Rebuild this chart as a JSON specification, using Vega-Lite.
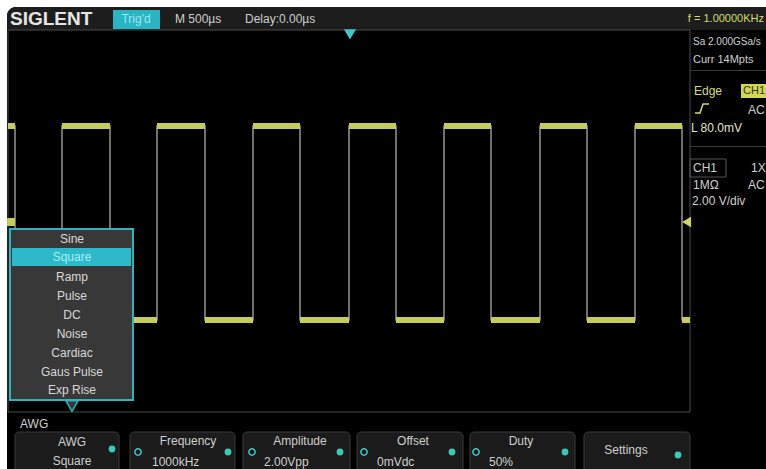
{
  "$schema": "https://vega.github.io/schema/vega-lite/v6.json",
  "width": 766,
  "height": 469,
  "autosize": {"type": "none"},
  "padding": 0,
  "background": "#ffffff",
  "config": {"view": {"stroke": null}, "axis": {"disable": true}},
  "datasets": {
    "bgRects": [
      {"x": 113, "x2": 160, "y": 10, "y2": 29, "f": "#2ab5c5", "st": "transparent", "sw": 0},
      {"x": 8, "x2": 690, "y": 30, "y2": 412, "f": "transparent", "st": "#4a4a4a", "sw": 1},
      {"x": 741, "x2": 772, "y": 84, "y2": 98, "f": "#d4d850", "st": "transparent", "sw": 0},
      {"x": 690, "x2": 766, "y": 70, "y2": 71, "f": "#3a3a3a", "st": "transparent", "sw": 0},
      {"x": 690, "x2": 766, "y": 146, "y2": 147, "f": "#3a3a3a", "st": "transparent", "sw": 0},
      {"x": 690, "x2": 726, "y": 159, "y2": 177, "f": "transparent", "st": "#555555", "sw": 1}
    ],
    "fgRects": [
      {"x": 10, "x2": 133, "y": 229, "y2": 400, "f": "#383838", "st": "#2fb3bf", "sw": 2},
      {"x": 12, "x2": 131, "y": 248, "y2": 266, "f": "#2cb9c8", "st": "transparent", "sw": 0}
    ],
    "buttons": [
      {"x": 15, "x2": 119, "y": 432, "y2": 478},
      {"x": 130, "x2": 235, "y": 432, "y2": 478},
      {"x": 243, "x2": 350, "y": 432, "y2": 478},
      {"x": 357, "x2": 463, "y": 432, "y2": 478},
      {"x": 470, "x2": 575, "y": 432, "y2": 478},
      {"x": 584, "x2": 690, "y": 432, "y2": 478}
    ],
    "wave": [
      {"i": 0, "x": 8, "y": 126}, {"i": 1, "x": 15, "y": 126}, {"i": 2, "x": 15, "y": 320}, {"i": 3, "x": 62, "y": 320},
      {"i": 4, "x": 62, "y": 126}, {"i": 5, "x": 110, "y": 126}, {"i": 6, "x": 110, "y": 320}, {"i": 7, "x": 157, "y": 320},
      {"i": 8, "x": 157, "y": 126}, {"i": 9, "x": 205, "y": 126}, {"i": 10, "x": 205, "y": 320}, {"i": 11, "x": 253, "y": 320},
      {"i": 12, "x": 253, "y": 126}, {"i": 13, "x": 300, "y": 126}, {"i": 14, "x": 300, "y": 320}, {"i": 15, "x": 349, "y": 320},
      {"i": 16, "x": 349, "y": 126}, {"i": 17, "x": 396, "y": 126}, {"i": 18, "x": 396, "y": 320}, {"i": 19, "x": 444, "y": 320},
      {"i": 20, "x": 444, "y": 126}, {"i": 21, "x": 491, "y": 126}, {"i": 22, "x": 491, "y": 320}, {"i": 23, "x": 540, "y": 320},
      {"i": 24, "x": 540, "y": 126}, {"i": 25, "x": 587, "y": 126}, {"i": 26, "x": 587, "y": 320}, {"i": 27, "x": 635, "y": 320},
      {"i": 28, "x": 635, "y": 126}, {"i": 29, "x": 682, "y": 126}, {"i": 30, "x": 682, "y": 320}, {"i": 31, "x": 690, "y": 320}
    ],
    "plateaus": [
      {"x": 8, "x2": 15, "y": 126}, {"x": 62, "x2": 110, "y": 126}, {"x": 157, "x2": 205, "y": 126}, {"x": 253, "x2": 300, "y": 126},
      {"x": 349, "x2": 396, "y": 126}, {"x": 444, "x2": 491, "y": 126}, {"x": 540, "x2": 587, "y": 126}, {"x": 635, "x2": 682, "y": 126},
      {"x": 15, "x2": 62, "y": 320}, {"x": 110, "x2": 157, "y": 320}, {"x": 205, "x2": 253, "y": 320}, {"x": 300, "x2": 349, "y": 320},
      {"x": 396, "x2": 444, "y": 320}, {"x": 491, "x2": 540, "y": 320}, {"x": 587, "x2": 635, "y": 320}, {"x": 682, "x2": 690, "y": 320}
    ],
    "edgeSym": [
      {"i": 0, "x": 695, "y": 113}, {"i": 1, "x": 700, "y": 113}, {"i": 2, "x": 703, "y": 104}, {"i": 3, "x": 709, "y": 104}
    ],
    "points": [
      {"x": 350, "y": 34, "sh": "triangle-down", "f": "#3cc8c8", "st": "#3cc8c8", "sz": 90},
      {"x": 72, "y": 406, "sh": "triangle-down", "f": "#383838", "st": "#2fb3bf", "sz": 150},
      {"x": 687, "y": 222, "sh": "triangle-left", "f": "#d0d860", "st": "#d0d860", "sz": 60},
      {"x": 11, "y": 222, "sh": "square", "f": "#c8cc60", "st": "#c8cc60", "sz": 40},
      {"x": 112, "y": 449, "sh": "circle", "f": "#3cc8b8", "st": "#3cc8b8", "sz": 28},
      {"x": 228, "y": 452, "sh": "circle", "f": "#3cc8b8", "st": "#3cc8b8", "sz": 28},
      {"x": 340, "y": 452, "sh": "circle", "f": "#3cc8b8", "st": "#3cc8b8", "sz": 28},
      {"x": 452, "y": 452, "sh": "circle", "f": "#3cc8b8", "st": "#3cc8b8", "sz": 28},
      {"x": 565, "y": 452, "sh": "circle", "f": "#3cc8b8", "st": "#3cc8b8", "sz": 28},
      {"x": 678, "y": 455, "sh": "circle", "f": "#3cc8b8", "st": "#3cc8b8", "sz": 28},
      {"x": 138, "y": 452, "sh": "circle", "f": "transparent", "st": "#3cc8c8", "sz": 40},
      {"x": 252, "y": 452, "sh": "circle", "f": "transparent", "st": "#3cc8c8", "sz": 40},
      {"x": 364, "y": 452, "sh": "circle", "f": "transparent", "st": "#3cc8c8", "sz": 40},
      {"x": 476, "y": 452, "sh": "circle", "f": "transparent", "st": "#3cc8c8", "sz": 40}
    ],
    "texts": [
      {"x": 136, "y": 19, "t": "Trig'd", "c": "#9be8f0", "s": 12, "a": "center"},
      {"x": 175, "y": 19, "t": "M 500µs", "c": "#cfcfcf", "s": 12, "a": "left"},
      {"x": 245, "y": 19, "t": "Delay:0.00µs", "c": "#cfcfcf", "s": 12, "a": "left"},
      {"x": 764, "y": 19, "t": "f = 1.00000KHz", "c": "#d6dc70", "s": 11, "a": "right"},
      {"x": 693, "y": 42, "t": "Sa 2.000GSa/s", "c": "#d0d0d0", "s": 10, "a": "left"},
      {"x": 693, "y": 60, "t": "Curr 14Mpts", "c": "#d0d0d0", "s": 11, "a": "left"},
      {"x": 694, "y": 91, "t": "Edge", "c": "#d6dc80", "s": 12, "a": "left"},
      {"x": 743, "y": 91, "t": "CH1", "c": "#333333", "s": 11, "a": "left"},
      {"x": 748, "y": 110, "t": "AC", "c": "#cfcfcf", "s": 12, "a": "left"},
      {"x": 691, "y": 128, "t": "L 80.0mV", "c": "#e4e4c8", "s": 12, "a": "left"},
      {"x": 693, "y": 168, "t": "CH1", "c": "#d0d0d0", "s": 12, "a": "left"},
      {"x": 751, "y": 168, "t": "1X", "c": "#d0d0d0", "s": 12, "a": "left"},
      {"x": 693, "y": 185, "t": "1MΩ", "c": "#d0d0d0", "s": 12, "a": "left"},
      {"x": 748, "y": 185, "t": "AC", "c": "#d0d0d0", "s": 12, "a": "left"},
      {"x": 692, "y": 201, "t": "2.00 V/div", "c": "#d0d0d0", "s": 12, "a": "left"},
      {"x": 72, "y": 239, "t": "Sine", "c": "#d8d8d8", "s": 12, "a": "center"},
      {"x": 72, "y": 257, "t": "Square", "c": "#a8eef5", "s": 12, "a": "center"},
      {"x": 72, "y": 277, "t": "Ramp", "c": "#d8d8d8", "s": 12, "a": "center"},
      {"x": 72, "y": 296, "t": "Pulse", "c": "#d8d8d8", "s": 12, "a": "center"},
      {"x": 72, "y": 315, "t": "DC", "c": "#d8d8d8", "s": 12, "a": "center"},
      {"x": 72, "y": 334, "t": "Noise", "c": "#d8d8d8", "s": 12, "a": "center"},
      {"x": 72, "y": 353, "t": "Cardiac", "c": "#d8d8d8", "s": 12, "a": "center"},
      {"x": 72, "y": 372, "t": "Gaus Pulse", "c": "#d8d8d8", "s": 12, "a": "center"},
      {"x": 72, "y": 390, "t": "Exp Rise", "c": "#d8d8d8", "s": 12, "a": "center"},
      {"x": 20, "y": 424, "t": "AWG", "c": "#d0d0d0", "s": 12, "a": "left"},
      {"x": 72, "y": 442, "t": "AWG", "c": "#d0d0d0", "s": 12, "a": "center"},
      {"x": 72, "y": 461, "t": "Square", "c": "#d0d0d0", "s": 12, "a": "center"},
      {"x": 188, "y": 441, "t": "Frequency", "c": "#d0d0d0", "s": 12, "a": "center"},
      {"x": 152, "y": 462, "t": "1000kHz", "c": "#d0d0d0", "s": 12, "a": "left"},
      {"x": 300, "y": 441, "t": "Amplitude", "c": "#d0d0d0", "s": 12, "a": "center"},
      {"x": 264, "y": 462, "t": "2.00Vpp", "c": "#d0d0d0", "s": 12, "a": "left"},
      {"x": 413, "y": 441, "t": "Offset", "c": "#d0d0d0", "s": 12, "a": "center"},
      {"x": 377, "y": 462, "t": "0mVdc", "c": "#d0d0d0", "s": 12, "a": "left"},
      {"x": 521, "y": 441, "t": "Duty", "c": "#d0d0d0", "s": 12, "a": "center"},
      {"x": 489, "y": 462, "t": "50%", "c": "#d0d0d0", "s": 12, "a": "left"},
      {"x": 626, "y": 450, "t": "Settings", "c": "#d0d0d0", "s": 12, "a": "center"}
    ]
  },
  "layer": [
    {
      "data": {"values": [{"x": 7, "x2": 800, "y": 7, "y2": 500}]},
      "mark": {"type": "rect", "fill": "#000000", "cornerRadiusTopLeft": 9, "cornerRadiusBottomLeft": 12},
      "encoding": {
        "x": {"field": "x", "type": "quantitative", "scale": {"domain": [0, 766], "nice": false, "zero": false}},
        "x2": {"field": "x2"},
        "y": {"field": "y", "type": "quantitative", "scale": {"domain": [0, 469], "nice": false, "zero": false, "reverse": true}},
        "y2": {"field": "y2"}
      }
    },
    {
      "data": {"values": [{"x": 7, "x2": 800, "y": 7, "y2": 30}]},
      "mark": {"type": "rect", "fill": "#1d1d1d", "cornerRadiusTopLeft": 9},
      "encoding": {
        "x": {"field": "x", "type": "quantitative"},
        "x2": {"field": "x2"},
        "y": {"field": "y", "type": "quantitative"},
        "y2": {"field": "y2"}
      }
    },
    {
      "data": {"name": "bgRects"},
      "mark": {"type": "rect"},
      "encoding": {
        "x": {"field": "x", "type": "quantitative"},
        "x2": {"field": "x2"},
        "y": {"field": "y", "type": "quantitative"},
        "y2": {"field": "y2"},
        "fill": {"field": "f", "type": "nominal", "scale": null},
        "stroke": {"field": "st", "type": "nominal", "scale": null},
        "strokeWidth": {"field": "sw", "type": "quantitative", "scale": null}
      }
    },
    {
      "data": {"name": "wave"},
      "mark": {"type": "line", "color": "#8c8c84", "strokeWidth": 1.6},
      "encoding": {
        "x": {"field": "x", "type": "quantitative"},
        "y": {"field": "y", "type": "quantitative"},
        "order": {"field": "i", "type": "quantitative"}
      }
    },
    {
      "data": {"name": "plateaus"},
      "mark": {"type": "rule", "color": "#c6cc5c", "strokeWidth": 6},
      "encoding": {
        "x": {"field": "x", "type": "quantitative"},
        "x2": {"field": "x2"},
        "y": {"field": "y", "type": "quantitative"}
      }
    },
    {
      "data": {"name": "edgeSym"},
      "mark": {"type": "line", "color": "#d6dc60", "strokeWidth": 1.5},
      "encoding": {
        "x": {"field": "x", "type": "quantitative"},
        "y": {"field": "y", "type": "quantitative"},
        "order": {"field": "i", "type": "quantitative"}
      }
    },
    {
      "data": {"name": "fgRects"},
      "mark": {"type": "rect"},
      "encoding": {
        "x": {"field": "x", "type": "quantitative"},
        "x2": {"field": "x2"},
        "y": {"field": "y", "type": "quantitative"},
        "y2": {"field": "y2"},
        "fill": {"field": "f", "type": "nominal", "scale": null},
        "stroke": {"field": "st", "type": "nominal", "scale": null},
        "strokeWidth": {"field": "sw", "type": "quantitative", "scale": null}
      }
    },
    {
      "data": {"name": "buttons"},
      "mark": {"type": "rect", "fill": "#1b1b1b", "stroke": "#3a3a3a", "strokeWidth": 1, "cornerRadius": 4},
      "encoding": {
        "x": {"field": "x", "type": "quantitative"},
        "x2": {"field": "x2"},
        "y": {"field": "y", "type": "quantitative"},
        "y2": {"field": "y2"}
      }
    },
    {
      "data": {"name": "points"},
      "mark": {"type": "point", "filled": true, "strokeWidth": 1.5, "opacity": 1},
      "encoding": {
        "x": {"field": "x", "type": "quantitative"},
        "y": {"field": "y", "type": "quantitative"},
        "shape": {"field": "sh", "type": "nominal", "scale": null},
        "fill": {"field": "f", "type": "nominal", "scale": null},
        "stroke": {"field": "st", "type": "nominal", "scale": null},
        "size": {"field": "sz", "type": "quantitative", "scale": null}
      }
    },
    {
      "data": {"values": [{"x": 10, "y": 19, "t": "SIGLENT"}]},
      "mark": {"type": "text", "align": "left", "baseline": "middle", "font": "Liberation Sans", "fontWeight": "bold", "fontSize": 19, "fill": "#e6e6e6"},
      "encoding": {
        "x": {"field": "x", "type": "quantitative"},
        "y": {"field": "y", "type": "quantitative"},
        "text": {"field": "t"}
      }
    },
    {
      "data": {"name": "texts"},
      "transform": [{"filter": "datum.a === 'left'"}],
      "mark": {"type": "text", "align": "left", "baseline": "middle", "font": "Liberation Sans Narrow, Liberation Sans, sans-serif"},
      "encoding": {
        "x": {"field": "x", "type": "quantitative"},
        "y": {"field": "y", "type": "quantitative"},
        "text": {"field": "t"},
        "color": {"field": "c", "type": "nominal", "scale": null},
        "size": {"field": "s", "type": "quantitative", "scale": null}
      }
    },
    {
      "data": {"name": "texts"},
      "transform": [{"filter": "datum.a === 'center'"}],
      "mark": {"type": "text", "align": "center", "baseline": "middle", "font": "Liberation Sans Narrow, Liberation Sans, sans-serif"},
      "encoding": {
        "x": {"field": "x", "type": "quantitative"},
        "y": {"field": "y", "type": "quantitative"},
        "text": {"field": "t"},
        "color": {"field": "c", "type": "nominal", "scale": null},
        "size": {"field": "s", "type": "quantitative", "scale": null}
      }
    },
    {
      "data": {"name": "texts"},
      "transform": [{"filter": "datum.a === 'right'"}],
      "mark": {"type": "text", "align": "right", "baseline": "middle", "font": "Liberation Sans Narrow, Liberation Sans, sans-serif"},
      "encoding": {
        "x": {"field": "x", "type": "quantitative"},
        "y": {"field": "y", "type": "quantitative"},
        "text": {"field": "t"},
        "color": {"field": "c", "type": "nominal", "scale": null},
        "size": {"field": "s", "type": "quantitative", "scale": null}
      }
    }
  ]
}
